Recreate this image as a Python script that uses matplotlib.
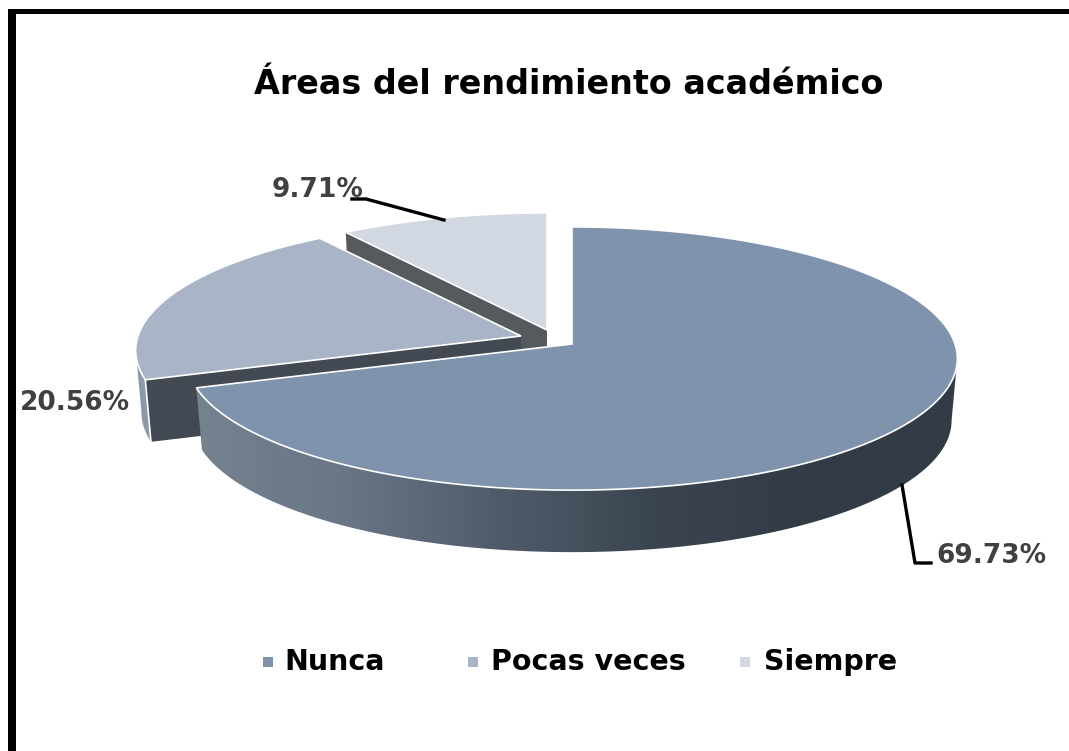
import numpy as np
import matplotlib
matplotlib.use("Agg")
import matplotlib.pyplot as plt
from matplotlib.patches import Polygon
from matplotlib.colors import LinearSegmentedColormap

title = "Áreas del rendimiento académico"
categories = ["Nunca", "Pocas veces", "Siempre"]
values = [69.73, 20.56, 9.71]
labels = ["69.73%", "20.56%", "9.71%"]
colors = ["#7f93ac", "#a9b5c6", "#d2d8e2"]
walls = [None, "#434953", "#555a5f"]
rims = [None, "#8c99aa", None]
offsets = [(0, 0), (-51, -8), (-25, -14)]

CX, CY, RX, RY, K, DEPTH, SHRINK = 572, 344, 383, 130, 0.1104, 62, 0.985

fig = plt.figure(figsize=(10.69, 7.51), dpi=100)
ax = fig.add_axes([0, 0, 1, 1])
ax.set_xlim(0, 1069)
ax.set_ylim(751, 0)
ax.axis("off")


def project(theta, off=(0, 0), low=False):
    t = np.radians(np.asarray(theta, dtype=float))
    u, v = np.cos(t), np.sin(t)
    d = 1 + K * v
    x, y = CX + RX * u / d + off[0], CY - RY * v / d + off[1]
    if low:
        x = CX + off[0] + SHRINK * (x - CX - off[0])
        y = y + DEPTH
    return x, y


def apex(off, low=False):
    return CX + off[0], CY + off[1] + (DEPTH if low else 0)


# slice angles from the values (clockwise from 12 o'clock)
fracs = np.array(values) / sum(values)
ends = 90 - np.cumsum(fracs) * 360
starts = np.r_[90, ends[:-1]]

# Siempre wall + top, then Pocas wall + rim + top
for i in (2, 1):
    off = offsets[i]
    base = 2 + (2 - i) * 2
    edge = starts[i]
    p0, p1 = apex(off), project(edge, off)
    p2, p3 = project(edge, off, True), apex(off, True)
    ax.add_patch(Polygon([p0, p1, p2, p3], closed=True, fc=walls[i], ec="none", zorder=base))
    if rims[i]:
        a = np.linspace(starts[i], -174, 30)
        xt, yt = project(a, off)
        xb, yb = project(a, off, True)
        ax.fill(np.r_[xt, xb[::-1]], np.r_[yt, yb[::-1]], fc=rims[i], ec="none", zorder=base)
        ax.plot(*zip(p1, p2), color="white", lw=1.2, zorder=base + 1)
    a = np.linspace(starts[i], ends[i], 120)
    xs, ys = project(a, off)
    ax0, ay0 = apex(off)
    ax.fill(np.r_[ax0, xs], np.r_[ay0, ys], fc=colors[i], ec="white", lw=1.2, zorder=base + 1)

# main slice side with horizontal gradient
a = np.linspace(ends[0] + 360 - 360, -6.3, 300)
a = np.linspace(starts[1], -6.3, 300)
xt, yt = project(a)
xb, yb = project(a, low=True)
side = Polygon(np.c_[np.r_[xt, xb[::-1]], np.r_[yt, yb[::-1]]], closed=True, fc="none", ec="none")
ax.add_patch(side)
stops = ["#75838f", "#677585", "#505b6a", "#3b4551", "#323b46", "#323b46"]
cmap = LinearSegmentedColormap.from_list("side", stops)
im = ax.imshow(np.linspace(0, 1, 256)[None, :], cmap=cmap, extent=[xt.min(), xt.max(), 560, 340], aspect="auto", zorder=6)
im.set_clip_path(side)
ax.set_xlim(0, 1069)
ax.set_ylim(751, 0)

a = np.linspace(starts[0], ends[0], 400)
xs, ys = project(a)
ax.fill(np.r_[CX, xs], np.r_[CY, ys], fc=colors[0], ec="white", lw=1.2, zorder=7)

# Frame (left and top only)
ax.fill([8, 16, 16, 8], [9, 9, 751, 751], color="black", lw=0, zorder=1)
ax.fill([8, 1069, 1069, 8], [9, 9, 14, 14], color="black", lw=0, zorder=1)

# Title
ax.text(569, 85, title, ha="center", va="center", fontsize=24, fontweight="bold", family="DejaVu Sans", color="black", zorder=9)

# Data labels and leader lines
lab = dict(fontsize=19, fontweight="bold", family="DejaVu Sans", color="#404040", va="center", zorder=9)
ax.text(936, 556, labels[0], ha="left", **lab)
ax.text(20, 403, labels[1], ha="left", **lab)
ax.text(272, 190, labels[2], ha="left", **lab)
ax.plot([902, 915, 931], [485, 563, 563], color="black", lw=2.4, zorder=8)
ax.plot([352, 366, 444], [199, 199, 220], color="black", lw=2.4, zorder=8)

# Legend
for m, tx, name, c in zip([267.5, 472.5, 744.5], [284, 491, 764], categories, colors):
    ax.scatter([m], [662], marker="s", s=42, color=c, lw=0, zorder=9)
    ax.text(tx, 662, name, ha="left", va="center", fontsize=20.5, fontweight="bold", family="DejaVu Sans", color="black", zorder=9)

fig.savefig("out.png", dpi=100, facecolor="white")
